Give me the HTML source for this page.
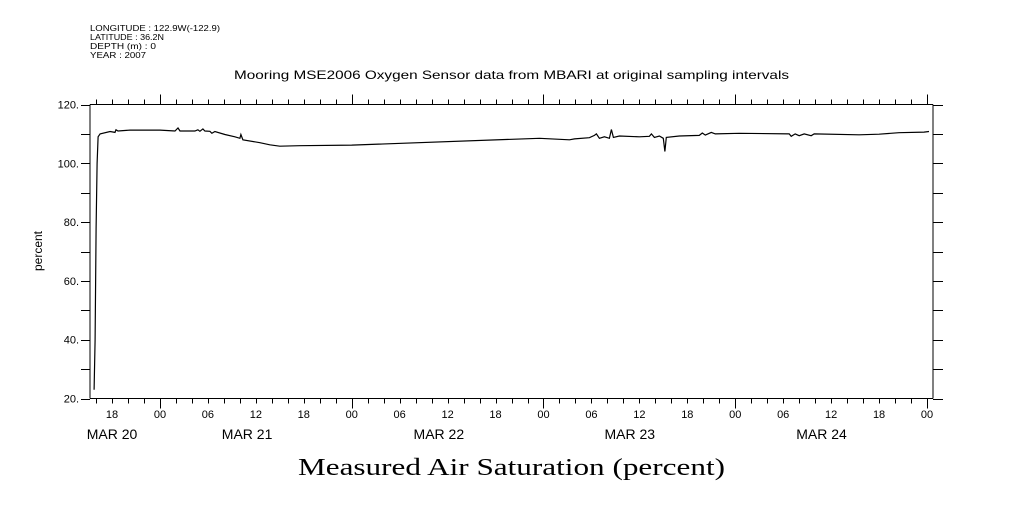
<!DOCTYPE html>
<html><head><meta charset="utf-8"><style>
body{margin:0;background:#fff}
svg text{font-family:"Liberation Sans",sans-serif;fill:#000}
</style></head><body>
<svg id="chart" width="1009" height="504" xmlns="http://www.w3.org/2000/svg">
<g font-size="8.5">
<text x="90" y="31" textLength="130" lengthAdjust="spacingAndGlyphs">LONGITUDE : 122.9W(-122.9)</text>
<text x="90" y="40" textLength="74" lengthAdjust="spacingAndGlyphs">LATITUDE : 36.2N</text>
<text x="90" y="49" textLength="66" lengthAdjust="spacingAndGlyphs">DEPTH (m) : 0</text>
<text x="90" y="58" textLength="56" lengthAdjust="spacingAndGlyphs">YEAR : 2007</text>
</g>
<text x="234" y="79" font-size="12" textLength="555" lengthAdjust="spacingAndGlyphs">Mooring MSE2006 Oxygen Sensor data from MBARI at original sampling intervals</text>
<text transform="translate(42,251) rotate(-90)" font-size="12" text-anchor="middle">percent</text>
<text x="298" y="475" font-size="24" textLength="427" lengthAdjust="spacingAndGlyphs" style="font-family:'Liberation Serif',serif">Measured Air Saturation (percent)</text>
<g id="axes"></g>
<g id="series"></g>
</svg>
<script>
const hours=[-8.25,-8.125,-8,-7.875,-7.75,-7.5,-6.25,-5.625,-5.5,-5.25,-3.75,0,1.875,2.25,2.5,4.375,4.75,5,5.375,5.625,6.25,6.5,6.875,8.125,9.375,10,10.125,10.375,12.5,13.75,15,17.5,24,47.5,51.25,51.875,53.75,54.375,54.625,55,55.625,56.25,56.5,56.75,57.5,60,61.25,61.5,61.875,62.5,63,63.19,63.375,65,67.5,67.875,68.25,69,69.5,72.5,78.75,79,79.5,80,80.625,81.5,81.875,87.5,90,92.5,95.625,96.25];
const values=[23,40,78,100,109,110,110.8,110.5,111.4,111,111.3,111.3,111,112,111,111,111.4,110.9,111.7,111,110.9,110.2,110.8,109.8,109,108.5,109.8,108,107,106.3,105.8,106,106.2,108.5,108,108.3,108.7,109.5,110,108.5,109,108.5,111.5,108.8,109.3,109,109.2,110,108.8,109.3,108.5,104,108.8,109.3,109.5,110.3,109.6,110.5,110,110.2,110,109.2,110,109.4,110,109.4,110,109.7,109.9,110.4,110.6,110.8];
const yTicks=[20,30,40,50,60,70,80,90,100,110,120];
const yLabels=[20,40,60,80,100,120];
const hourLabels=["18","00","06","12","18","00","06","12","18","00","06","12","18","00","06","12","18","00"];
const dateLabels=["MAR 20","MAR 21","MAR 22","MAR 23","MAR 24"];
const dateHours=[-6,10.9,34.9,58.8,82.8];
const NS="http://www.w3.org/2000/svg";
const X0=90,X1=933,Y0=398.5,Y1=104.5,HMIN=-8.76,HMAX=96.75;
function xs(h){return X0+(h-HMIN)/(HMAX-HMIN)*(X1-X0);}
function ys(v){return Y0-(v-20)/100*(Y0-Y1);}
const axes=document.getElementById('axes');
function line(x1,y1,x2,y2,name){const l=document.createElementNS(NS,'line');l.setAttribute('x1',x1);l.setAttribute('y1',y1);l.setAttribute('x2',x2);l.setAttribute('y2',y2);l.setAttribute('stroke','#000');l.setAttribute('stroke-width','1');


axes.appendChild(l);}
function txt(x,y,s,size,anchor,name){const t=document.createElementNS(NS,'text');t.setAttribute('x',x);t.setAttribute('y',y);t.setAttribute('font-size',size);t.setAttribute('text-anchor',anchor);t.textContent=s;


axes.appendChild(t);}
line(X0,Y1,X1,Y1,'plot-frame-top');line(X0,Y0,X1,Y0,'plot-frame-bottom');line(X0,Y1,X0,Y0,'y-axis-left');line(X1,Y1,X1,Y0,'y-axis-right');
yTicks.forEach(v=>{const y=Math.round(ys(v))+0.5;line(81,y,X0,y,'y-tick');line(X1,y,943,y,'y-tick-right');});
yLabels.forEach(v=>txt(79,ys(v)+4,v+'.',11,'end','y-tick-label'));
for(let h=-8;h<=96;h+=2){const x=Math.round(xs(h))+0.5;const major=(h%24===0);const len=major?10:5;line(x,Y0,x,Y0+len,'x-tick');line(x,Y1,x,Y1-len,'x-tick-top');}
hourLabels.forEach((s,i)=>txt(xs(-6+6*i),418,s,11,'middle','x-hour-label'));
dateLabels.forEach((s,i)=>txt(xs(dateHours[i]),439,s,14,'middle','x-date-label'));
const ser=document.getElementById('series');
const p=document.createElementNS(NS,'polyline');
p.setAttribute('points',hours.map((h,i)=>xs(h).toFixed(1)+','+ys(values[i]).toFixed(1)).join(' '));
p.setAttribute('fill','none');p.setAttribute('stroke','#000');p.setAttribute('stroke-width','1.2');


ser.appendChild(p);
</script>
</body></html>
